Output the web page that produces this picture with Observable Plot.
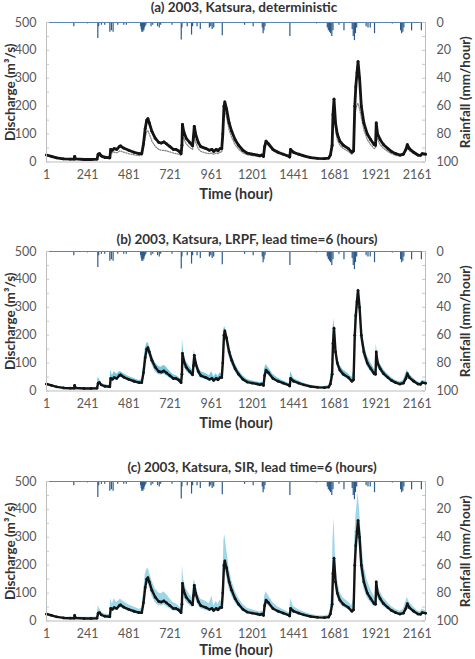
<!DOCTYPE html>
<html>
<head>
<meta charset="utf-8">
<script src="https://cdn.jsdelivr.net/npm/d3@7"></script>
<script src="https://cdn.jsdelivr.net/npm/@observablehq/plot@0.6"></script>
<style>
  body { margin: 0; background: #fff; }
  .panel { position: relative; width: 475px; }
  .panel svg { position: absolute; left: 0; top: 0; }
</style>
</head>
<body>
<div id="chart"></div>
<script>
// Katsura river, 2003 flood season: hourly discharge (m³/s) and basin rainfall (mm/hour)
const hours = [1,30,60,100,140,162,165,170,220,260,295,302,310,320,340,370,375,385,395,410,425,432,450,480,510,540,556,566,576,585,592,600,615,635,655,670,685,700,720,740,755,770,785,790,793,800,815,835,852,857,862,870,885,900,930,950,965,975,990,1000,1012,1022,1028,1035,1040,1050,1065,1080,1100,1120,1145,1170,1200,1230,1245,1255,1265,1272,1280,1295,1320,1350,1380,1415,1418,1423,1440,1470,1500,1540,1580,1620,1645,1655,1665,1670,1676,1685,1695,1710,1730,1760,1780,1790,1797,1803,1810,1816,1825,1835,1850,1870,1890,1910,1918,1922,1930,1945,1965,1990,2010,2035,2060,2080,2095,2103,2115,2140,2165,2180,2190,2209];
const observed = [25,20,15,11,10,10,20,11,9,9,10,28,30,22,17,15,45,42,48,45,55,58,50,42,35,30,30,65,120,150,155,140,110,85,70,68,72,65,55,45,45,40,30,60,135,110,85,70,58,90,128,100,70,55,48,42,45,38,45,40,48,48,100,200,215,190,140,110,80,60,42,32,28,25,22,25,20,55,75,65,45,35,28,20,18,45,35,28,22,16,13,12,14,25,60,170,225,140,100,75,60,48,35,40,200,270,320,360,300,200,140,100,80,62,60,140,100,80,62,48,38,30,25,28,45,62,48,35,25,24,30,28];
// deterministic simulation
const simulated = [25,19,14,10,9,9,12,10,8,8,9,22,24,17,14,12,35,33,35,33,38,40,35,30,26,23,24,50,90,108,112,100,75,55,45,42,42,40,36,32,30,28,24,50,100,85,65,52,45,70,95,70,48,38,32,30,32,28,32,30,35,36,80,170,185,160,115,88,62,46,33,26,23,21,19,21,18,48,68,58,40,31,25,18,17,40,31,25,20,14,12,11,13,22,55,140,170,115,80,60,48,38,28,35,160,190,205,210,190,160,115,80,62,48,50,110,80,62,48,38,30,24,21,24,38,52,40,30,22,21,27,25];
// LRPF ensemble range, lead time 6 h
const lrpfLow = [22,18,13,10,9,9,14,10,8,8,9,24,25,19,15,13,38,38,40,40,48,50,44,36,30,26,27,55,105,135,140,125,95,70,58,57,60,55,46,38,38,34,26,50,115,95,72,60,50,75,110,85,60,47,40,36,38,33,38,34,40,42,85,175,195,170,125,95,70,52,36,28,24,22,19,22,18,48,65,56,40,31,25,18,16,38,31,25,20,14,11,10,12,21,52,150,200,125,88,66,52,42,30,35,180,245,295,330,270,175,122,88,70,54,52,120,86,70,54,42,33,26,22,24,40,55,42,31,22,21,27,25];
const lrpfHigh = [28,22,17,13,12,12,24,13,12,12,13,50,40,28,22,20,75,55,70,60,68,70,62,52,45,38,40,90,150,170,175,160,130,100,88,85,92,85,70,58,56,50,40,100,185,140,105,88,75,120,145,120,88,70,62,55,70,50,62,52,65,60,130,225,230,210,160,130,98,75,55,42,36,32,30,32,28,80,95,82,60,46,36,27,25,70,46,36,28,21,17,16,20,40,100,220,260,175,125,92,75,62,48,70,250,310,350,370,330,240,170,125,100,80,75,170,120,98,76,60,48,38,32,38,62,75,60,45,32,30,38,35];
// SIR ensemble range, lead time 6 h
const sirLow = [22,17,13,9,8,8,12,9,7,7,8,22,23,17,13,12,35,35,38,38,45,48,42,34,28,24,25,50,100,130,135,120,90,65,55,54,58,52,44,36,36,32,25,48,110,90,68,56,48,70,105,80,56,44,38,34,36,30,36,32,38,40,80,165,190,160,115,90,65,50,34,26,23,21,18,21,17,45,62,54,38,29,23,17,15,36,29,23,18,13,10,10,11,20,50,140,190,120,85,62,50,40,29,33,170,235,280,310,255,165,115,82,66,52,50,105,82,65,51,40,31,25,21,23,38,52,40,29,21,20,26,24];
const sirHigh = [30,23,18,14,13,13,26,14,13,13,14,55,45,32,25,23,80,60,80,65,75,78,70,58,50,42,45,100,165,185,190,175,145,115,100,98,105,95,80,65,62,55,45,110,200,150,115,95,82,130,150,130,95,78,70,62,90,55,70,58,75,68,150,290,310,260,190,145,108,82,60,46,40,35,32,36,30,90,105,90,66,50,40,30,28,80,52,40,32,24,19,18,22,45,130,290,370,220,150,105,82,68,55,80,300,370,420,460,400,300,200,145,112,90,82,150,125,105,82,65,52,42,35,42,70,85,66,50,35,33,42,38];

// hourly rainfall (mm/hour)
const rainHours = [160,240,300,305,321,340,370,379,389,416,451,466,549,553,556,559,562,565,568,571,575,580,610,620,648,658,666,732,786,790,821,846,852,878,897,950,958,966,975,1025,1155,1205,1258,1263,1268,1274,1419,1574,1637,1643,1650,1656,1663,1670,1705,1734,1782,1788,1795,1801,1808,1863,1874,1887,1912,2016,2064,2070,2077,2083,2128,2185];
const rainMm = [3,1,11.5,3,2,2,7,6,7,2,2,2,3,5,7,6,7,5,6,4,3,2,3,2,3,4,2,2,12.5,4,3,9,3,3,5,4,3,5,4,9.5,2,3,4,8,6,3,10,1,4,6,7,8,10,6,2,6,5,10,13,8,4,3,4,4,8,1,6,8,7,4,6,6];

const xTicks = [1,241,481,721,961,1201,1441,1681,1921,2161];
const dischargeTicks = [0,100,200,300,400,500];
const rainTicks = [0,20,40,60,80,100];

const panels = [
  {title: "(a) 2003, Katsura, deterministic", height: 229, titleDx: 8, titleDy: -15, xLabelDy: 32, sim: simulated},
  {title: "(b) 2003, Katsura, LRPF, lead time=6 (hours)", height: 230, titleDx: 11, titleDy: -12, xLabelDy: 32, low: lrpfLow, high: lrpfHigh, fill: "#6ec5de"},
  {title: "(c) 2003, Katsura, SIR, lead time=6 (hours)", height: 200, titleDx: 16, titleDy: -14, xLabelDy: 29, low: sirLow, high: sirHigh, fill: "#98d4e8"}
];

const font = "Lato, 'Open Sans', sans-serif";
const W = 475, ML = 46, MR = 50, MT = 22, FRAME_H = 139.5;
const frameW = W - ML - MR;
const xDomain = [1, 2209];
const rainRows = rainHours.map((h, i) => ({hour: h, mm: rainMm[i]}));
const minorQ = d3.range(0, 501, 50);
const minorRain = d3.range(0, 101, 10);

const chart = document.getElementById("chart");

for (const p of panels) {
  const rows = hours.map((h, i) => ({
    hour: h,
    obs: observed[i],
    sim: p.sim ? p.sim[i] : null,
    low: p.low ? p.low[i] : null,
    high: p.high ? p.high[i] : null
  }));
  const mb = p.height - MT - FRAME_H;
  const div = document.createElement("div");
  div.className = "panel";
  div.style.height = p.height + "px";
  chart.appendChild(div);

  // rainfall (inverted right axis)
  const rainPlot = Plot.plot({
    width: W, height: p.height,
    marginLeft: ML, marginRight: MR, marginTop: MT, marginBottom: mb,
    style: {fontFamily: font, fontSize: "12px", color: "#595959", background: "none"},
    x: {domain: xDomain, label: null, axis: null},
    y: {domain: [0, 100], reverse: true, label: null},
    marks: [
      Plot.ruleX(rainRows, {x: "hour", y1: 0, y2: "mm", stroke: "#2d5b8c", strokeWidth: 1.2}),
      Plot.ruleY([0], {stroke: "#5a86b5", strokeWidth: 1}),
      Plot.ruleX([xDomain[1]], {stroke: "#bdbdbd"}),
      Plot.tickY(minorRain, {y: d => d, stroke: "#c8c8c8", insetLeft: frameW - 3}),
      Plot.axisY({anchor: "right", ticks: rainTicks, tickSize: 0, tickPadding: 11, label: null, fontSize: 12.5}),
      Plot.text(["Rainfall (mm/hour)"], {frameAnchor: "right", rotate: -90, dx: 40, textAnchor: "middle", lineAnchor: "middle",
        fontSize: 13.5, fontWeight: "bold", fill: "#333"})
    ]
  });

  const marks = [];
  if (p.low) {
    marks.push(Plot.areaY(rows, {x: "hour", y1: "low", y2: "high", fill: p.fill, fillOpacity: 0.95}));
  }
  if (p.sim) {
    marks.push(Plot.line(rows, {x: "hour", y: "sim", stroke: "#8a8a8a", strokeWidth: 1.3, strokeDasharray: "1.2,1.4"}));
  }
  marks.push(
    Plot.line(rows, {x: "hour", y: "obs", stroke: "#141414", strokeWidth: p.low ? 2.4 : 2.8}),
    Plot.dot(rows, {x: "hour", y: "obs", r: 1.4, fill: "#141414"}),
    Plot.ruleX([xDomain[0]], {stroke: "#bdbdbd"}),
    Plot.ruleY([0], {stroke: "#bdbdbd"}),
    Plot.tickY(minorQ, {y: d => d, stroke: "#c8c8c8", insetRight: frameW - 3}),
    Plot.axisX({ticks: xTicks, tickFormat: d => String(d), tickSize: 0, tickPadding: 8, label: null, fontSize: 12.5}),
    Plot.axisY({ticks: dischargeTicks, tickFormat: d => String(d), tickSize: 0, tickPadding: 10, label: null, fontSize: 12.5}),
    Plot.text([p.title], {frameAnchor: "top", dy: p.titleDy, dx: p.titleDx, textAnchor: "middle", lineAnchor: "middle",
      fontSize: 13.5, fontWeight: "bold", fill: "#333"}),
    Plot.text(["Discharge (m³/s)"], {frameAnchor: "left", rotate: -90, dx: -36, textAnchor: "middle", lineAnchor: "middle",
      fontSize: 13.5, fontWeight: "bold", fill: "#333"}),
    Plot.text(["Time (hour)"], {frameAnchor: "bottom", dy: p.xLabelDy, textAnchor: "middle", lineAnchor: "middle",
      fontSize: 14.5, fontWeight: "bold", fill: "#333"})
  );

  const qPlot = Plot.plot({
    width: W, height: p.height,
    marginLeft: ML, marginRight: MR, marginTop: MT, marginBottom: mb,
    style: {fontFamily: font, fontSize: "12px", color: "#595959", background: "none"},
    x: {domain: xDomain, label: null},
    y: {domain: [0, 500], label: null},
    marks
  });

  div.appendChild(rainPlot);
  div.appendChild(qPlot);
}
</script>
</body>
</html>
